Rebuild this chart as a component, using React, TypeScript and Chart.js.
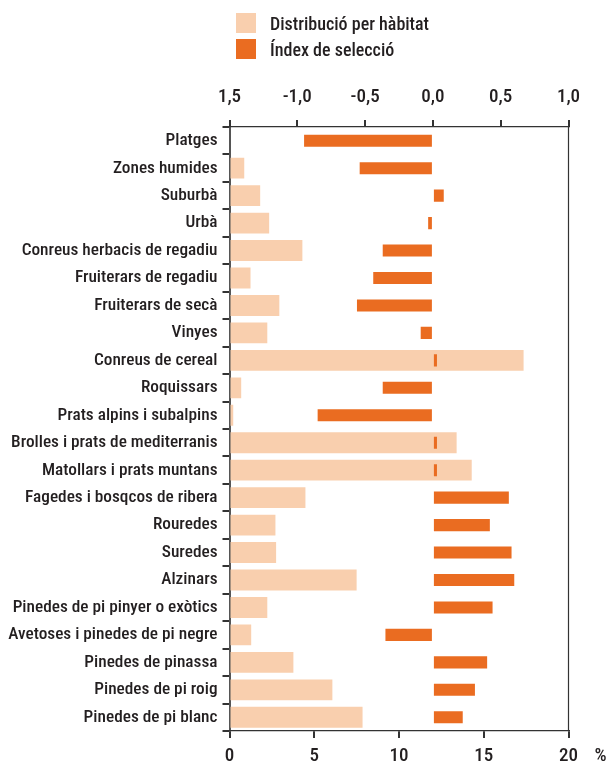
import React, { useEffect, useRef } from "react";
import { Chart, registerables } from "chart.js";

Chart.register(...registerables);

const categories = [
  "Platges",
  "Zones humides",
  "Suburbà",
  "Urbà",
  "Conreus herbacis de regadiu",
  "Fruiterars de regadiu",
  "Fruiterars de secà",
  "Vinyes",
  "Conreus de cereal",
  "Roquissars",
  "Prats alpins i subalpins",
  "Brolles i prats de mediterranis",
  "Matollars i prats muntans",
  "Fagedes i bosqcos de ribera",
  "Rouredes",
  "Suredes",
  "Alzinars",
  "Pinedes de pi pinyer o exòtics",
  "Avetoses i pinedes de pi negre",
  "Pinedes de pinassa",
  "Pinedes de pi roig",
  "Pinedes de pi blanc",
];

const distribucio = [
  0, 0.87, 1.81, 2.34, 4.3, 1.24, 2.94, 2.23, 17.35, 0.69, 0.22, 13.4, 14.29,
  4.48, 2.71, 2.75, 7.5, 2.23, 1.28, 3.77, 6.07, 7.85,
];

const indexSeleccio = [
  -0.95, -0.54, 0.08, -0.035, -0.37, -0.44, -0.56, -0.09, 0.03, -0.37, -0.85,
  0.03, 0.03, 0.56, 0.42, 0.58, 0.6, 0.44, -0.35, 0.4, 0.31, 0.22,
];

const bottomTickLabels = ["0", "5", "10", "15", "20"];
const topTickLabels = ["1,5", "-1,0", "-0,5", "0,0", "0,5", "1,0"];
const legendLabels = ["Distribució per hàbitat", "Índex de selecció"];

const PEACH = "#F9CFAE";
const ORANGE = "#EA6C21";
const TEXT = "#231F20";
const FONT = "'Roboto Condensed', 'Liberation Sans Narrow', sans-serif";

export default function App() {
  const ref = useRef<HTMLCanvasElement | null>(null);

  useEffect(() => {
    document.body.style.margin = "0";
    const canvas = ref.current;
    if (!canvas) return;

    const framePlugin = {
      id: "frame",
      afterDraw(chart: any) {
        const { ctx, chartArea } = chart;
        ctx.save();
        ctx.strokeStyle = "#333";
        ctx.lineWidth = 1.2;
        ctx.beginPath();
        ctx.moveTo(chartArea.right, chartArea.top);
        ctx.lineTo(chartArea.right, chartArea.bottom);
        ctx.stroke();
        ctx.fillStyle = TEXT;
        ctx.font = `500 19px ${FONT}`;
        ctx.textAlign = "center";
        ctx.textBaseline = "middle";
        const xs = chart.scales.x;
        ctx.fillText("%", chartArea.right + 32, xs.top + 7 + 7 + 11.4);
        ctx.restore();
      },
    };

    const chart = new Chart(canvas, {
      type: "bar",
      data: {
        labels: categories,
        datasets: [
          {
            label: legendLabels[0],
            data: distribucio,
            backgroundColor: PEACH,
            xAxisID: "x",
            barPercentage: 0.76,
            categoryPercentage: 1,
            grouped: false,
            order: 2,
          } as any,
          {
            label: legendLabels[1],
            data: indexSeleccio,
            backgroundColor: ORANGE,
            xAxisID: "x2",
            barPercentage: 0.44,
            categoryPercentage: 1,
            grouped: false,
            order: 1,
          } as any,
        ],
      },
      options: {
        indexAxis: "y",
        animation: false,
        responsive: false,
        maintainAspectRatio: false,
        layout: { padding: { left: 0, right: 42.5, top: 75, bottom: 3 } },
        plugins: {
          legend: { display: false },
          tooltip: { enabled: false },
        },
        scales: {
          y: {
            type: "category",
            grid: {
              drawOnChartArea: false,
              tickLength: 7,
              color: "#333",
              lineWidth: 2,
              offset: true,
            },
            border: { color: "#555", width: 2 },
            ticks: {
              color: TEXT,
              font: { family: FONT, size: 17.3, weight: "500" },
              padding: 5,
              autoSkip: false,
            },
            afterFit(scale: any) {
              scale.width = 229.5;
            },
          },
          x: {
            position: "bottom",
            min: 0,
            max: 20,
            grid: {
              drawOnChartArea: false,
              tickLength: 7,
              color: "#333",
              lineWidth: 2,
            },
            border: { color: "#333", width: 1.2 },
            ticks: {
              stepSize: 5,
              color: TEXT,
              font: { family: FONT, size: 19, weight: "500" },
              padding: 7,
              callback: (_v: any, i: number) => bottomTickLabels[i],
            },
            afterFit(scale: any) {
              scale.height = 30;
            },
          },
          x2: {
            position: "top",
            min: -1.5,
            max: 1.0,
            grid: {
              drawOnChartArea: false,
              tickLength: 7,
              color: "#333",
              lineWidth: 2,
            },
            border: { color: "#333", width: 1.2 },
            ticks: {
              stepSize: 0.5,
              color: TEXT,
              font: { family: FONT, size: 19, weight: "500" },
              padding: 11,
              callback: (_v: any, i: number) => topTickLabels[i],
            },
            afterFit(scale: any) {
              scale.height = 52;
            },
          },
        },
      } as any,
      plugins: [framePlugin],
    });

    return () => chart.destroy();
  }, []);

  const legendColors = [PEACH, ORANGE];
  const legendTops = [13, 39];

  return (
    <div style={{ position: "relative", width: 611, height: 764 }}>
      <canvas ref={ref} width={611} height={764} style={{ display: "block" }} />
      {legendLabels.map((l, i) => (
        <div
          key={l}
          style={{
            position: "absolute",
            left: 236,
            top: legendTops[i],
            height: 20,
            display: "flex",
            alignItems: "center",
            fontFamily: FONT,
            fontSize: 18,
            fontWeight: 500,
            color: TEXT,
            whiteSpace: "nowrap",
          }}
        >
          <span
            style={{
              display: "inline-block",
              width: 20,
              height: 20,
              background: legendColors[i],
              marginRight: 14,
            }}
          />
          {l}
        </div>
      ))}
    </div>
  );
}
